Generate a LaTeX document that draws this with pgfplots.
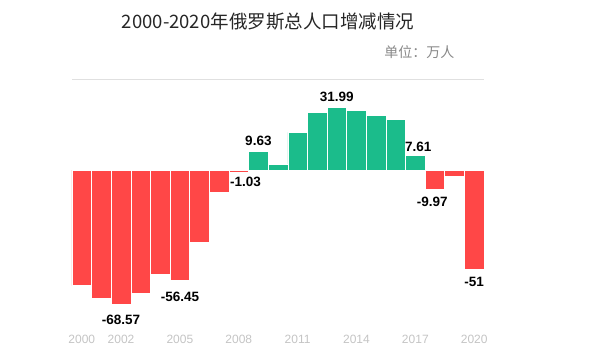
\documentclass[border=0pt]{standalone}
\usepackage{pgfplots}
\pgfplotsset{compat=1.18}
\usepackage{fontspec}
\setmainfont{Liberation Sans}
\newfontfamily\cjk{Noto Sans CJK SC}
\definecolor{negred}{HTML}{FF4747}
\definecolor{posgreen}{HTML}{1BBC8B}
\definecolor{tickgray}{HTML}{C4C4C4}
\definecolor{unitgray}{HTML}{888888}
\begin{document}
\begin{tikzpicture}[x=1pt,y=1pt]
\path[use as bounding box] (0,0) rectangle (600,360);
\node[font=\cjk\fontsize{18.5}{20}\selectfont, text=black!85] at (268,338) {2000-2020年俄罗斯总人口增减情况};
\node[font=\cjk\fontsize{14}{16}\selectfont, text=unitgray, anchor=east] at (458,308) {单位：万人};
\begin{axis}[
  at={(72pt,33.7pt)}, anchor=south west,
  scale only axis, width=412pt, height=247.3pt,
  xmin=1999.5, xmax=2020.5, ymin=-80, ymax=46.6,
  axis line style={draw=none},
  ytick=\empty,
  xtick={2000,2002,2005,2008,2011,2014,2017,2020},
  major tick length=0pt,
  /pgf/number format/1000 sep={},
  /pgf/number format/assume math mode=true,
  xticklabel style={font=\fontsize{12}{14}\selectfont, text=tickgray, anchor=center, yshift=-12.7pt},
  clip=false,
]
\draw[black!12, line width=0.8pt] (axis cs:1999.5,46.6) -- (axis cs:2020.5,46.6);
\addplot[ybar, bar width=1, bar shift=0pt, fill=negred, draw=white, line width=0.6pt] coordinates {
(2000,-59.2) (2001,-65.7) (2002,-68.57) (2003,-63.3) (2004,-53.6) (2005,-56.45) (2006,-37.2) (2007,-11.6) (2008,-1.03) (2018,-9.97) (2019,-3.1) (2020,-51)
};
\addplot[ybar, bar width=1, bar shift=0pt, fill=posgreen, draw=white, line width=0.6pt] coordinates {
(2009,9.63) (2010,2.9) (2011,19.3) (2012,29.3) (2013,31.99) (2014,30.7) (2015,27.8) (2016,25.9) (2017,7.61)
};
\tikzset{lbl/.style={font=\bfseries\fontsize{13.5}{15}\selectfont, text=black}}
\node[lbl] at (axis cs:2002,-76.8) {-68.57};
\node[lbl] at (axis cs:2005,-65) {-56.45};
\node[lbl, anchor=west, inner sep=0pt] at (axis cs:2007.55,-6.1) {-1.03};
\node[lbl] at (axis cs:2009,14.8) {9.63};
\node[lbl] at (axis cs:2013,37.4) {31.99};
\node[lbl] at (axis cs:2017.15,11.8) {7.61};
\node[lbl] at (axis cs:2017.86,-16.4) {-9.97};
\node[lbl] at (axis cs:2020,-57.3) {-51};
\end{axis}
\end{tikzpicture}
\end{document}
